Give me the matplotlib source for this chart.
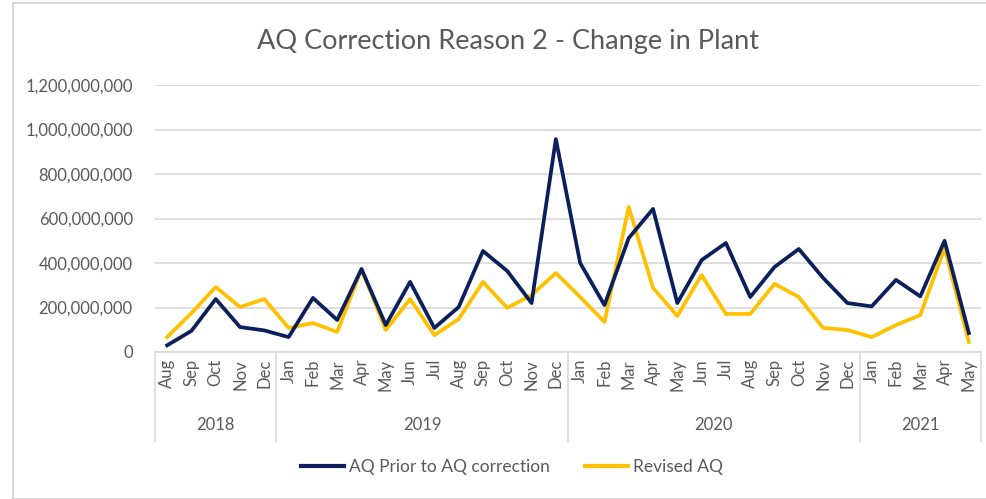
import matplotlib
matplotlib.use("Agg")
import matplotlib.pyplot as plt
import matplotlib.patches as patches
from matplotlib.ticker import FuncFormatter

months = ["Aug", "Sep", "Oct", "Nov", "Dec",
          "Jan", "Feb", "Mar", "Apr", "May", "Jun", "Jul", "Aug", "Sep", "Oct", "Nov", "Dec",
          "Jan", "Feb", "Mar", "Apr", "May", "Jun", "Jul", "Aug", "Sep", "Oct", "Nov", "Dec",
          "Jan", "Feb", "Mar", "Apr", "May"]
years = ["2018", "2019", "2020", "2021"]
months_per_year = [5, 12, 12, 5]

aq_prior = [30, 95, 238, 112, 97, 67, 243, 144, 373, 121, 315, 108, 202, 454, 364, 220, 957,
            400, 211, 512, 643, 220, 413, 490, 247, 382, 463, 333, 220,
            205, 324, 250, 500, 85]
aq_revised = [67, 175, 292, 202, 238, 108, 130, 90, 373, 99, 238, 76, 148, 315, 198, 256, 355,
              247, 135, 652, 288, 162, 346, 171, 171, 306, 247, 108, 99,
              67, 121, 166, 467, 45]
aq_prior = [v * 1e6 for v in aq_prior]
aq_revised = [v * 1e6 for v in aq_revised]

W, H = 987, 499
FONT = "Lato"
TXT = "#595959"
NAVY = "#0a1f5c"
GOLD = "#ffc000"

fig = plt.figure(figsize=(W / 100, H / 100), dpi=100)
fig.patch.set_facecolor("white")

# chart frame (Excel chart area border)
frame = patches.Rectangle((13 / W, 0), 1, 1 - 3 / H, transform=fig.transFigure,
                          facecolor="white", edgecolor="#d0d0d0", linewidth=1.2, zorder=-5)
fig.patches.append(frame)

ax = fig.add_axes([155 / W, 1 - 352 / H, 826 / W, (352 - 85) / H])
ax.set_facecolor("none")
x = list(range(len(months)))
ax.plot(x, aq_prior, color=NAVY, lw=2.7, label="AQ Prior to AQ correction", zorder=3)
ax.plot(x, aq_revised, color=GOLD, lw=2.7, label="Revised AQ", zorder=2)

ax.set_xlim(-0.5, len(months) - 0.5)
ax.set_ylim(0, 1.2e9)
ax.set_yticks([i * 2e8 for i in range(7)])
ax.yaxis.set_major_formatter(FuncFormatter(lambda v, p: f"{int(v):,}"))
ax.grid(axis="y", color="#d9d9d9", lw=1.2)
ax.set_axisbelow(True)
for s in ["top", "right", "left"]:
    ax.spines[s].set_visible(False)
ax.spines["bottom"].set_color("#d9d9d9")
ax.spines["bottom"].set_linewidth(1.2)
ax.tick_params(axis="y", length=0, pad=16, labelsize=12, labelcolor=TXT)
ax.tick_params(axis="x", length=0, pad=5, labelsize=12, labelcolor=TXT)
for lab in ax.get_yticklabels():
    lab.set_fontfamily(FONT)
ax.set_xticks(x)
ax.set_xticklabels(months, rotation=90, va="top", ha="center", fontfamily=FONT)

# year level of the category axis
trans = ax.get_xaxis_transform()
y_year = -(425 - 352) / (352 - 85)
y_sep = -(442 - 352) / (352 - 85)
start = 0
edges = [-0.5]
for yr, n in zip(years, months_per_year):
    ax.text(start + (n - 1) / 2, y_year, yr, transform=trans, ha="center", va="center",
            fontsize=12, color=TXT, fontfamily=FONT)
    start += n
    edges.append(start - 0.5)
for e in edges:
    ax.plot([e, e], [0, y_sep], transform=trans, color="#d9d9d9", lw=1.2, clip_on=False)

fig.text(508 / W, 1 - 42 / H, "AQ Correction Reason 2 - Change in Plant", ha="center", va="center",
         fontsize=19.5, color=TXT, fontfamily=FONT)

leg = fig.legend(loc="center", bbox_to_anchor=(512 / W, 1 - 467 / H), ncol=2, frameon=False,
                 handlelength=2.5, handletextpad=0.3, columnspacing=2.0,
                 prop={"family": FONT, "size": 12.5})
for t in leg.get_texts():
    t.set_color(TXT)
for h in leg.get_lines():
    h.set_linewidth(3)

fig.savefig("out.png", dpi=100)
